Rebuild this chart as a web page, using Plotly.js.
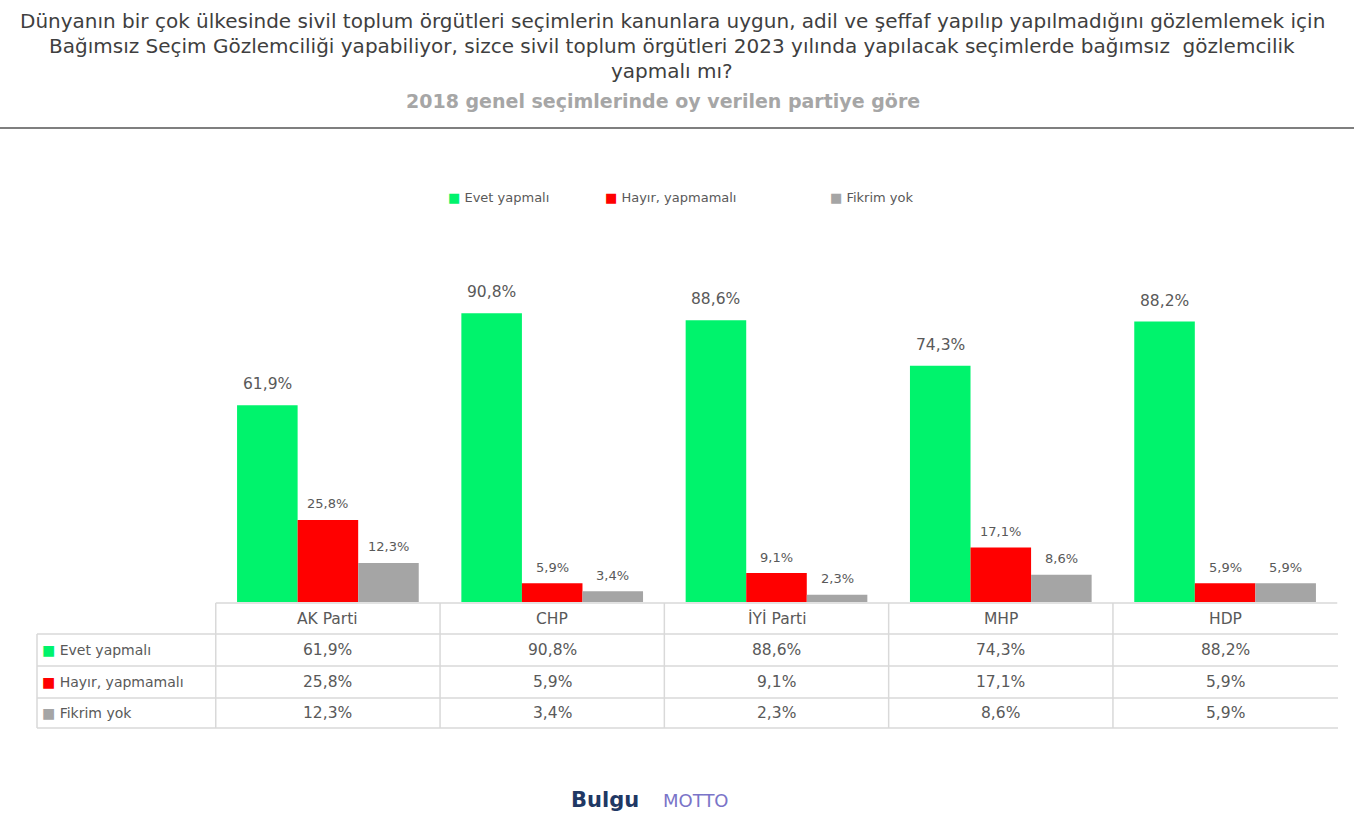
<!DOCTYPE html>
<html>
<head>
<meta charset="utf-8">
<script src="https://cdn.plot.ly/plotly-3.0.1.min.js"></script>
<style>
  html, body { margin: 0; padding: 0; background: #fff; }
  #chart { width: 1354px; height: 819px; }
</style>
</head>
<body>
<div id="chart"></div>
<script>
// Parties (categories) and answers per party, in percent
const parties = ['AK Parti', 'CHP', 'İYİ Parti', 'MHP', 'HDP'];
const evet = [61.9, 90.8, 88.6, 74.3, 88.2];
const hayir = [25.8, 5.9, 9.1, 17.1, 5.9];
const fikrimYok = [12.3, 3.4, 2.3, 8.6, 5.9];
const seriesNames = ['Evet yapmalı', 'Hayır, yapmamalı', 'Fikrim yok'];
const seriesColors = ['#00f36c', '#ff0000', '#a5a5a5'];

const W = 1354, H = 819;
const py = y => 1 - y / H;   // pixel row -> paper y
const px = x => x / W;       // pixel col -> paper x
const fmt = v => v.toFixed(1).replace('.', ',') + '%';
const key = (c, name) => '<span style="color:' + c + '">■</span>\u00a0' + name;

const textGrey = '#595959';
const lineGrey = '#d9d9d9';
const font = 'DejaVu Sans, sans-serif';
const bargap = 0.19;

const seriesValues = [evet, hayir, fikrimYok];
const traces = seriesValues.map((vals, i) => ({
  type: 'bar',
  name: seriesNames[i],
  x: parties,
  y: vals,
  marker: { color: seriesColors[i] },
  hoverinfo: 'skip'
}));

// table rows
const rowTop = [603, 634, 666, 698, 728];
const shapes = [];
const annotations = [];

// data labels above bars
seriesValues.forEach((vals, i) => {
  const off = (i - 1) * (1 - bargap) / 3;
  vals.forEach((v, k) => {
    annotations.push({ xref: 'x', yref: 'y', x: k + off, y: v, yanchor: 'middle', yshift: i === 0 ? 21 : 16,
      text: fmt(v), showarrow: false,
      font: { family: font, size: i === 0 ? 15.5 : 13, color: textGrey } });
  });
});

// legend drawn as keys above the chart
const legendX = [446, 603, 828];
seriesNames.forEach((n, i) => {
  annotations.push({ xref: 'paper', yref: 'paper', x: px(legendX[i]), y: py(197), xanchor: 'left', yanchor: 'middle',
    text: key(seriesColors[i], n), showarrow: false, font: { family: font, size: 13, color: textGrey } });
});

// rule under the title
shapes.push({ type: 'line', xref: 'paper', yref: 'paper', x0: 0, x1: 1, y0: py(128), y1: py(128),
  line: { color: '#7f7f7f', width: 2 } });

// header row top line (bar baseline)
shapes.push({ type: 'line', xref: 'x', yref: 'paper', x0: -0.5, x1: 4.5, y0: py(rowTop[0]), y1: py(rowTop[0]),
  line: { color: lineGrey, width: 1.5 } });
// other horizontal lines spanning the legend column too
for (let r = 1; r < rowTop.length; r++) {
  shapes.push({ type: 'line', xref: 'paper', yref: 'paper', x0: px(37), x1: px(1338), y0: py(rowTop[r]), y1: py(rowTop[r]),
    line: { color: lineGrey, width: 1.5 } });
}
// vertical lines at category boundaries
for (let k = 0; k < parties.length; k++) {
  shapes.push({ type: 'line', xref: 'x', yref: 'paper', x0: k - 0.5, x1: k - 0.5, y0: py(rowTop[0]), y1: py(rowTop[4]),
    line: { color: lineGrey, width: 1.5 } });
}
// left border of the legend column
shapes.push({ type: 'line', xref: 'paper', yref: 'paper', x0: px(37), x1: px(37), y0: py(rowTop[1]), y1: py(rowTop[4]),
  line: { color: lineGrey, width: 1.5 } });

// header labels
parties.forEach((p, k) => {
  annotations.push({ xref: 'x', yref: 'paper', x: k, y: py((rowTop[0] + rowTop[1]) / 2), yanchor: 'middle', text: p,
    showarrow: false, font: { family: font, size: 15.5, color: textGrey } });
});
// table body
seriesValues.forEach((vals, i) => {
  const yc = py((rowTop[i + 1] + rowTop[i + 2]) / 2);
  annotations.push({ xref: 'paper', yref: 'paper', x: px(40), y: yc, xanchor: 'left', yanchor: 'middle',
    text: key(seriesColors[i], seriesNames[i]),
    showarrow: false, font: { family: font, size: 14, color: textGrey } });
  vals.forEach((v, k) => {
    annotations.push({ xref: 'x', yref: 'paper', x: k, y: yc, yanchor: 'middle', text: fmt(v),
      showarrow: false, font: { family: font, size: 15.5, color: textGrey } });
  });
});

// title
const titleLines = [
  'Dünyanın bir çok ülkesinde sivil toplum örgütleri seçimlerin kanunlara uygun, adil ve şeffaf yapılıp yapılmadığını gözlemlemek için',
  'Bağımsız Seçim Gözlemciliği yapabiliyor, sizce sivil toplum örgütleri 2023 yılında yapılacak seçimlerde bağımsız  gözlemcilik',
  'yapmalı mı?'
];
const titleY = [21, 46, 71];
titleLines.forEach((t, i) => {
  annotations.push({ xref: 'paper', yref: 'paper', x: px(672), y: py(titleY[i]), yanchor: 'middle', text: t, showarrow: false,
    font: { family: font, size: 20, color: '#3f3f3f' } });
});
annotations.push({ xref: 'paper', yref: 'paper', x: px(663), y: py(101), yanchor: 'middle',
  text: '<b>2018 genel seçimlerinde oy verilen partiye göre</b>',
  showarrow: false, font: { family: font, size: 19, color: '#a6a6a6' } });

// logos
annotations.push({ xref: 'paper', yref: 'paper', x: px(605), y: py(800), yanchor: 'middle', text: '<b>Bulgu</b>', showarrow: false,
  font: { family: font, size: 21, color: '#1f3864' } });
annotations.push({ xref: 'paper', yref: 'paper', x: px(696), y: py(800), yanchor: 'middle', text: 'MOTTO', showarrow: false,
  font: { family: font, size: 18, color: '#7a74c8' } });

Plotly.newPlot('chart', traces, {
  width: W,
  height: H,
  margin: { l: 0, r: 0, t: 0, b: 0 },
  paper_bgcolor: '#fff',
  plot_bgcolor: '#fff',
  barmode: 'group',
  bargap: bargap,
  bargroupgap: 0,
  showlegend: false,
  xaxis: {
    domain: [px(215), px(1338)],
    showticklabels: false, showgrid: false, zeroline: false, showline: false, ticks: ''
  },
  yaxis: {
    domain: [py(602), py(284)],
    range: [0, 100],
    showticklabels: false, showgrid: false, zeroline: false, showline: false, ticks: ''
  },
  shapes: shapes,
  annotations: annotations
}, { displayModeBar: false, staticPlot: true });
</script>
</body>
</html>
